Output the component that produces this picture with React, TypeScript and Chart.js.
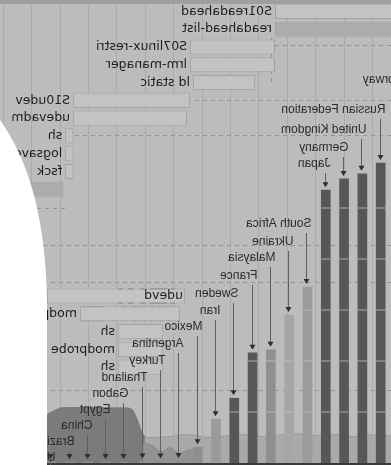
import React, { useEffect, useRef } from "react";
import { Chart, registerables } from "chart.js";
Chart.register(...registerables);

const W = 391;
const H = 465;

// ---------- boot chart (process rows) ----------
const processNames = [
  "S01readahead", "readahead-list", "S07linux-restri", "lrm-manager", "ld static",
  "S10udev", "udevadm", "sh", "logsave", "fsck", "",
  "", "", "", "", "",
  "udevd", "modprobe", "sh", "modprobe", "sh",
  "", "", "", "", "",
];
const processStart = [-0.7, -0.7, 3.45, 3.45, 4.15, 6.44, 6.55, 10.55, 10.55, 10.55, 10.9,
  null, null, null, null, null, 6.62, 6.8, 7.4, 7.4, 7.4, null, null, null, null, null];
const processEnd = [3.45, 3.45, 6.44, 6.44, 6.34, 10.56, 10.56, 10.84, 10.84, 10.84, 13.4,
  null, null, null, null, null, 11.48, 10.32, 8.98, 8.98, 8.98, null, null, null, null, null];
const labelInside = [16];
const lrmStripes = [[3.84, 4.05]];
const ldStripes = [[4.4, 4.58]];
const udevdStripes = [[8.8, 8.98], [8.45, 8.63], [8.03, 8.2], [7.25, 7.85], [6.97, 7.15]];
const modprobeStripes = [[9.51, 10.25], [8.66, 8.84], [8.31, 8.48], [7.99, 8.2], [7.68, 7.85], [7.39, 7.57], [7.15, 7.25]];

// ---------- countries ----------
const countries = [
  "Norway", "Russian Federation", "United Kingdom", "Germany", "Japan", "South Africa",
  "Ukraine", "Malaysia", "France", "Sweden", "Iran", "Mexico", "Argentina", "Turkey",
  "Thailand", "Gabon", "Egypt", "China", "Brazil", "United States",
];
const countryValues = [64, 58.8, 56.7, 55.7, 53.5, 34.5, 29.0, 22.2, 21.6, 12.7, 8.6, 3.1, 0.4, 0.3, 0.3, 0.2, 0.2, 0.2, 0.2, 0.2];

// background area series (x in country index units)
const areaDarkX = [13.85, 14.05, 14.3, 14.55, 14.8, 15.5, 17, 18.5, 19.1, 19.6, 20.5];
const areaDarkY = [5.0, 6.0, 8.5, 10.4, 10.8, 10.8, 10.9, 10.8, 9.8, 8.4, 7.0];
const areaLightX = [0.4, 1.5, 2.5, 3.5, 4.5, 5.5, 6.5, 7.5, 8.5, 9.5, 10.5, 11.5, 12.5, 13.3, 13.9];
const areaLightY = [5.3, 5.5, 5.2, 5.6, 5.4, 5.7, 5.5, 5.2, 5.6, 5.3, 5.0, 5.6, 5.2, 5.0, 5.0];
const areaLowX = [10.8, 11.0, 11.5, 12.0, 12.5, 13.0, 13.5, 14.0];
const areaLowY = [0, 2.0, 2.6, 1.8, 3.0, 2.2, 3.4, 4.0];

// ---------- styles / layout ----------
const BG = "#bcbcbc";
const DARK = "#575757";
const BAR_COLORS = [DARK, DARK, DARK, DARK, DARK, "#9b9b9b", "#a6a6a6", "#8f8f8f", DARK, DARK,
  "#9a9a9a", "#8f8f8f", "#8f8f8f", "#8f8f8f", "#8f8f8f", "#8f8f8f", "#8f8f8f", "#8f8f8f", "#8f8f8f", "#8f8f8f"];
const LABEL_Y = [80, 110, 130, 148, 164, 224, 242, 258, 276, 294, 311, 327, 344, 361, 378, 394, 410, 426, 442, 458];
const ROW_FILL = (i: number) => (i === 1 || i === 10 ? "#acacac" : "#c3c3c3");
const DASHES = [
  { y: 45, x0: 0, x1: 116 },
  { y: 100, x0: 0, x1: 201 },
  { y: 135, x0: 0, x1: 326 },
  { y: 208, x0: 326, x1: 391 },
  { y: 245, x0: 0, x1: 391 },
  { y: 282, x0: 0, x1: 391 },
  { y: 390, x0: 0, x1: 391 },
];

export default function App() {
  const ganttRef = useRef<HTMLCanvasElement | null>(null);
  const barRef = useRef<HTMLCanvasElement | null>(null);

  useEffect(() => {
    document.body.style.margin = "0";
    const mainData = processNames.map((_, i) =>
      processStart[i] === null ? null : [processStart[i] as number, processEnd[i] as number]
    );
    const stripeSets: any[] = [];
    const maxStripes = 7;
    for (let k = 0; k < maxStripes; k++) {
      const data = processNames.map((_, i) => {
        let list: number[][] | null = null;
        if (i === 3) list = lrmStripes;
        if (i === 4) list = ldStripes;
        if (i === 16) list = udevdStripes;
        if (i === 17) list = modprobeStripes;
        return list && list[k] ? list[k] : null;
      });
      stripeSets.push({
        data,
        grouped: false,
        barPercentage: 0.85,
        categoryPercentage: 1,
        backgroundColor: processNames.map((_, i) => (i === 16 ? "#707070" : i === 17 ? "#969696" : "#a0a0a0")),
        borderWidth: 0,
      });
    }

    const ganttDecor = {
      id: "ganttDecor",
      beforeDraw(chart: any) {
        const ctx = chart.ctx;
        ctx.save();
        ctx.fillStyle = BG;
        ctx.fillRect(0, 0, W, H);
        ctx.fillStyle = "#9f9f9f";
        ctx.fillRect(0, 0, W, 4);
        ctx.restore();
      },
      beforeDatasetsDraw(chart: any) {
        const ctx = chart.ctx;
        const xs = chart.scales.x;
        ctx.save();
        ctx.strokeStyle = "#acacac";
        ctx.lineWidth = 1;
        for (let t = 0; t <= 13; t++) {
          const px = Math.round(xs.getPixelForValue(t)) + 0.5;
          ctx.beginPath();
          ctx.moveTo(px, 4);
          ctx.lineTo(px, H);
          ctx.stroke();
        }
        ctx.strokeStyle = "rgba(105,130,140,0.6)";
        ctx.setLineDash([4, 4]);
        for (const d of DASHES) {
          ctx.beginPath();
          ctx.moveTo(d.x0, d.y + 0.5);
          ctx.lineTo(d.x1, d.y + 0.5);
          ctx.stroke();
        }
        ctx.beginPath();
        ctx.moveTo(119.5, 38);
        ctx.lineTo(119.5, 82);
        ctx.stroke();
        ctx.restore();
      },
      afterDatasetsDraw(chart: any) {
        const ctx = chart.ctx;
        const xs = chart.scales.x;
        const ys = chart.scales.y;
        ctx.save();
        ctx.font = "12.5px 'DejaVu Sans'";
        ctx.fillStyle = "#1c1c1c";
        ctx.textBaseline = "middle";
        ctx.textAlign = "left";
        processNames.forEach((name, i) => {
          if (!name || processStart[i] === null) return;
          const y = ys.getPixelForValue(i);
          const x = labelInside.includes(i)
            ? xs.getPixelForValue(processStart[i] as number) + 2
            : xs.getPixelForValue(processEnd[i] as number) + 3;
          ctx.fillText(name, x, y);
        });
        ctx.restore();
      },
    };

    const gantt = new Chart(ganttRef.current as HTMLCanvasElement, {
      type: "bar",
      data: {
        labels: processNames,
        datasets: [
          {
            data: mainData as any,
            grouped: false,
            barPercentage: 0.85,
            categoryPercentage: 1,
            backgroundColor: processNames.map((_, i) => ROW_FILL(i)),
            borderColor: "#a3a3a3",
            borderWidth: 1,
            borderSkipped: false,
          } as any,
          ...stripeSets,
        ],
      },
      options: {
        indexAxis: "y",
        responsive: false,
        animation: false,
        layout: { padding: { top: 2.5, bottom: 0, left: 0, right: 0 } },
        plugins: { legend: { display: false }, tooltip: { enabled: false } },
        scales: {
          x: { type: "linear", display: false, offset: false, min: -0.634, max: -0.634 + W / 28.4 },
          y: { type: "category", display: false },
        },
      } as any,
      plugins: [ganttDecor],
    });

    const countryDecor = {
      id: "countryDecor",
      afterDatasetsDraw(chart: any) {
        const ctx = chart.ctx;
        const xs = chart.scales.x;
        const ys = chart.scales.y;
        const meta = chart.getDatasetMeta(0);
        ctx.save();
        // light rules across bars
        ctx.strokeStyle = "rgba(200,200,200,0.5)";
        ctx.lineWidth = 1.5;
        meta.data.forEach((bar: any) => {
          const p = bar.getProps(["x", "y", "base", "width"], true);
          for (let v = 10; v <= 90; v += 10) {
            const py = ys.getPixelForValue(v);
            if (py > p.y + 2 && py < p.base) {
              ctx.beginPath();
              ctx.moveTo(p.x - p.width / 2, py);
              ctx.lineTo(p.x + p.width / 2, py);
              ctx.stroke();
            }
          }
        });
        // axis line
        ctx.strokeStyle = "#3a3a3a";
        ctx.lineWidth = 2;
        ctx.beginPath();
        ctx.moveTo(0, ys.getPixelForValue(0) + 1);
        ctx.lineTo(W, ys.getPixelForValue(0) + 1);
        ctx.stroke();
        // arrows and labels
        ctx.font = "12px 'Liberation Sans'";
        ctx.textBaseline = "middle";
        ctx.textAlign = "left";
        countries.forEach((name, i) => {
          const cx = Math.round(xs.getPixelForValue(i)) + 0.5;
          const top = ys.getPixelForValue(countryValues[i]);
          const tip = Math.min(top - 3, 462);
          const ly = LABEL_Y[i];
          ctx.strokeStyle = "#5f5f5f";
          ctx.lineWidth = 1;
          ctx.beginPath();
          ctx.moveTo(cx, ly + 9);
          ctx.lineTo(cx, tip - 4);
          ctx.stroke();
          ctx.fillStyle = "#2e2e2e";
          ctx.beginPath();
          ctx.moveTo(cx - 3, tip - 5);
          ctx.lineTo(cx + 3, tip - 5);
          ctx.lineTo(cx, tip);
          ctx.closePath();
          ctx.fill();
          ctx.fillStyle = "#2b2b2b";
          ctx.fillText(name, cx - 5, ly);
        });
        ctx.restore();
      },
      afterDraw(chart: any) {
        const ctx = chart.ctx;
        ctx.save();
        ctx.fillStyle = "#ffffff";
        ctx.beginPath();
        ctx.moveTo(W, 120);
        ctx.bezierCurveTo(370, 150, 346, 200, 344, 300);
        ctx.lineTo(344, H);
        ctx.lineTo(W, H);
        ctx.closePath();
        ctx.fill();
        ctx.restore();
      },
    };

    const toPts = (xs: number[], ys: number[]) => xs.map((x, i) => ({ x, y: ys[i] }));

    const bars = new Chart(barRef.current as HTMLCanvasElement, {
      type: "bar",
      data: {
        datasets: [
          {
            type: "bar",
            data: countryValues.map((v, i) => ({ x: i, y: v })),
            backgroundColor: BAR_COLORS,
            barThickness: 9,
            order: 1,
          } as any,
          {
            type: "line",
            data: toPts(areaLightX, areaLightY),
            fill: "origin",
            backgroundColor: "#a9a9a9",
            borderColor: "#9a9a9a",
            borderWidth: 1,
            pointRadius: 0,
            tension: 0.35,
            order: 4,
          } as any,
          {
            type: "line",
            data: toPts(areaLowX, areaLowY),
            fill: "origin",
            backgroundColor: "#939393",
            borderColor: "#8a8a8a",
            borderWidth: 1,
            pointRadius: 0,
            tension: 0.3,
            order: 3,
          } as any,
          {
            type: "line",
            data: toPts(areaDarkX, areaDarkY),
            fill: "origin",
            backgroundColor: "#7b7b7b",
            borderColor: "#777777",
            borderWidth: 1,
            pointRadius: 0,
            tension: 0.1,
            order: 5,
          } as any,
        ],
      },
      options: {
        responsive: false,
        animation: false,
        layout: { padding: { top: 0, bottom: 2, left: 0, right: 0 } },
        plugins: { legend: { display: false }, tooltip: { enabled: false } },
        scales: {
          x: { type: "linear", display: false, offset: false, min: 0.437, max: 0.437 + W / 18.303 },
          y: { type: "linear", display: false, min: 0, max: 463 / 5.1 },
        },
      } as any,
      plugins: [countryDecor],
    });

    return () => {
      gantt.destroy();
      bars.destroy();
    };
  }, []);

  return (
    <div
      style={{
        position: "fixed",
        left: 0,
        top: 0,
        width: W,
        height: H,
        transform: "scaleX(-1)",
        overflow: "hidden",
      }}
    >
      <canvas ref={ganttRef} width={W} height={H} style={{ position: "absolute", left: 0, top: 0 }} />
      <canvas ref={barRef} width={W} height={H} style={{ position: "absolute", left: 0, top: 0 }} />
    </div>
  );
}
